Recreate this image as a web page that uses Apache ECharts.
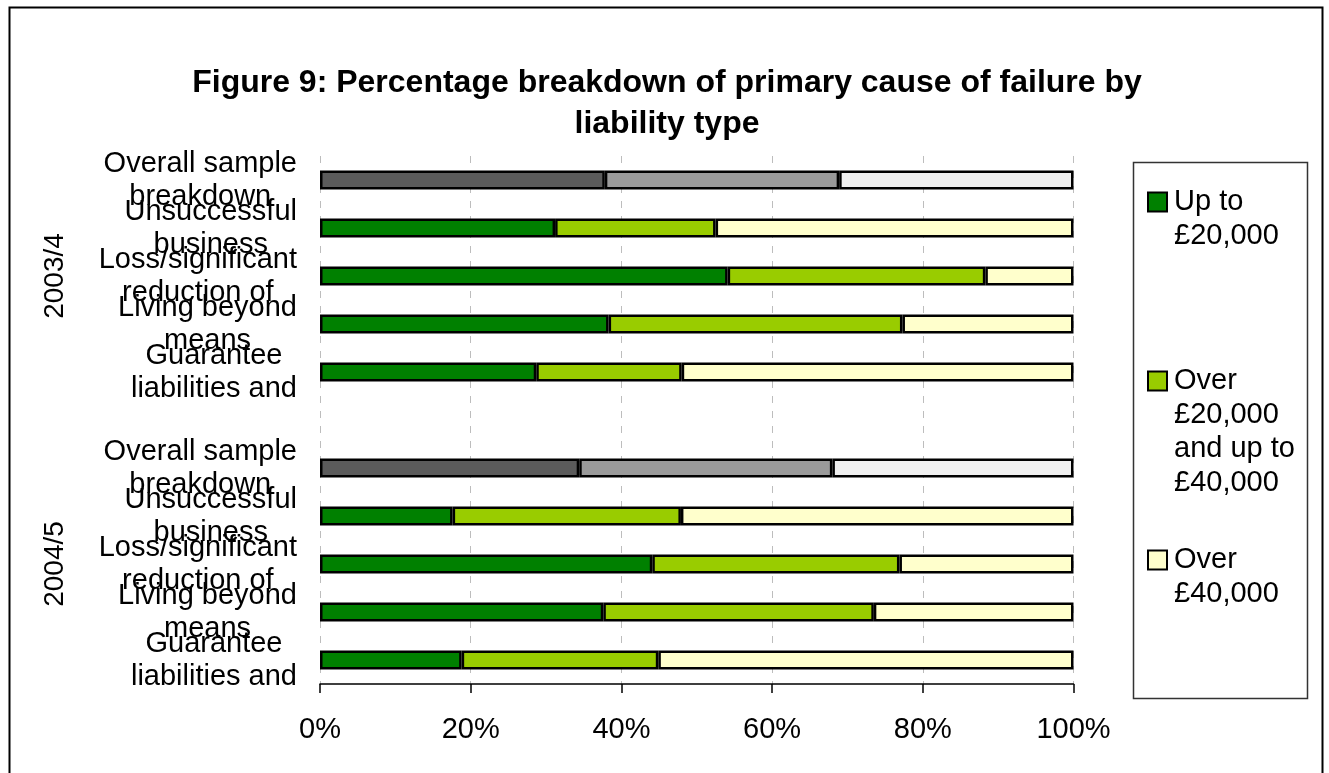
<!DOCTYPE html>
<html>
<head>
<meta charset="utf-8">
<script src="https://cdn.jsdelivr.net/npm/echarts@6/dist/echarts.min.js"></script>
<style>html,body{margin:0;padding:0;background:#fff}#c{width:1329px;height:773px}</style>
</head>
<body>
<div id="c"></div>
<script>
// ---- data ----
const categories = [
  "Overall sample\nbreakdown", "Unsuccessful\nbusiness", "Loss/significant\nreduction of", "Living beyond\nmeans", "Guarantee\nliabilities and",
  "",
  "Overall sample\nbreakdown ", "Unsuccessful\nbusiness ", "Loss/significant\nreduction of ", "Living beyond\nmeans ", "Guarantee\nliabilities and "
];
const isOverall = [true, false, false, false, false, false, true, false, false, false, false];
const groupLabels = ["2003/4", "2004/5"];
const seriesNames = ["Up to £20,000", "Over £20,000 and up to £40,000", "Over £40,000"];
const legendTexts = ["Up to\n£20,000", "Over\n£20,000\nand up to\n£40,000", "Over\n£40,000"];
const upTo20k   = [37.8, 31.2, 54.1, 38.3, 28.7, null, 34.4, 17.6, 44.1, 37.6, 18.8];
const from20to40k = [31.1, 21.3, 34.2, 39.0, 19.3, null, 33.6, 30.3, 32.8, 35.9, 26.1];
const over40k   = [31.1, 47.5, 11.7, 22.7, 52.0, null, 32.0, 52.1, 23.1, 26.5, 55.1];
const xTicks = [0, 20, 40, 60, 80, 100];

// ---- styles ----
const greenColors = ["#008000", "#99cc00", "#ffffcc"];
const grayColors = ["#5b5b5b", "#9a9a9a", "#f0f0f0"];
const FONT = "'Liberation Sans', Arial, sans-serif";

function buildData(values, si) {
  return values.map((v, i) => ({
    value: v == null ? '-' : v,
    itemStyle: isOverall[i] ? { color: grayColors[si] } : undefined
  }));
}

const allValues = [upTo20k, from20to40k, over40k];
const series = allValues.map((vals, si) => ({
  name: seriesNames[si],
  type: 'bar',
  stack: 'total',
  barWidth: 19,
  data: buildData(vals, si),
  itemStyle: { color: greenColors[si], borderColor: '#000', borderWidth: 2.5 },
  emphasis: { disabled: true },
  animation: false
}));

const chart = echarts.init(document.getElementById('c'), null, { renderer: 'canvas' });
chart.setOption({
  backgroundColor: '#fff',
  animation: false,
  textStyle: { fontFamily: FONT },
  title: {
    text: "Figure 9: Percentage breakdown of primary cause of failure by\nliability type",
    left: 667, top: 63, textAlign: 'center', padding: 0,
    textStyle: { fontFamily: FONT, fontSize: 32, fontWeight: 'bold', color: '#000', lineHeight: 41 }
  },
  grid: { left: 320, right: 255.5, top: 156, bottom: 89, containLabel: false },
  xAxis: {
    type: 'value', min: xTicks[0], max: xTicks[xTicks.length - 1], interval: 20,
    axisLine: { show: true, lineStyle: { color: '#000', width: 1.5 } },
    axisTick: { show: true, length: 9, lineStyle: { color: '#000', width: 1.5 } },
    axisLabel: { formatter: '{value}%', fontSize: 29, color: '#000', margin: 31, fontFamily: FONT },
    splitLine: { show: true, lineStyle: { color: '#bdbdbd', type: [7, 8], width: 1 } }
  },
  yAxis: {
    type: 'category', inverse: true, data: categories,
    axisLine: { show: false }, axisTick: { show: false }, splitLine: { show: false },
    axisLabel: {
      interval: 0, showMinLabel: true, showMaxLabel: true, hideOverlap: false,
      margin: 23, align: 'right', fontSize: 29, color: '#000', lineHeight: 33, fontFamily: FONT,
      formatter: (v) => v.trim() === '' ? '' : v.trim().split('\n').map(l => '{c|' + l + '}').join('\n'),
      rich: { c: { align: 'center', fontSize: 29, lineHeight: 33, color: '#000', fontFamily: FONT } }
    }
  },
  legend: {
    orient: 'vertical', left: 1147, top: 151, itemGap: 9, padding: 0,
    itemWidth: 19, itemHeight: 19, icon: 'rect',
    data: seriesNames,
    formatter: (name) => {
      const t = legendTexts[seriesNames.indexOf(name)];
      const n = t.split('\n').length;
      return '\n'.repeat(n - 1) + t;
    },
    textStyle: { fontSize: 29, lineHeight: 34, color: '#000', fontFamily: FONT, padding: [0, 0, 0, 2] },
    selectedMode: false
  },
  graphic: [
    { type: 'rect', shape: { x: 9.5, y: 7.5, width: 1313, height: 800 }, style: { fill: 'none', stroke: '#000', lineWidth: 2 }, silent: true, z: -1 },
    { type: 'rect', shape: { x: 1133.5, y: 162.5, width: 174, height: 536 }, style: { fill: 'none', stroke: '#333', lineWidth: 1.5 }, silent: true, z: -1 },
    { type: 'text', x: 55, y: 276, rotation: Math.PI / 2, style: { text: groupLabels[0], font: '28px ' + FONT, fill: '#000', textAlign: 'center', textVerticalAlign: 'middle' }, silent: true },
    { type: 'text', x: 55, y: 564, rotation: Math.PI / 2, style: { text: groupLabels[1], font: '28px ' + FONT, fill: '#000', textAlign: 'center', textVerticalAlign: 'middle' }, silent: true }
  ],
  series: series
});
</script>
</body>
</html>
